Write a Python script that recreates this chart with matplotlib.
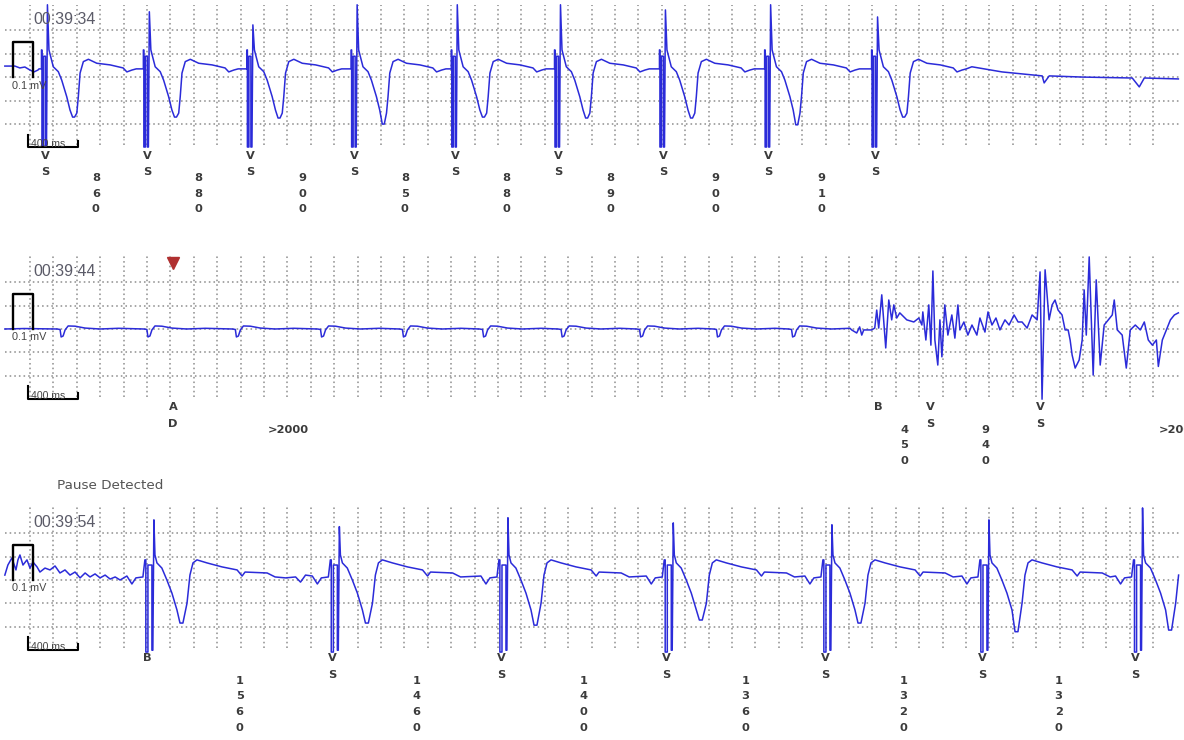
#!/usr/bin/env python3
"""
Pacemaker EGM strip - three 10 s rhythm strips with marker channel
"""

import numpy as np
import matplotlib
matplotlib.use("Agg")
import matplotlib.pyplot as plt

plt.rcParams['font.family'] = ['Liberation Sans', 'DejaVu Sans']

# ---------------------------------------------------------------- data
# times in ms from strip start, amplitudes in grid divisions

# paced beat shape for strip 1 (relative to marker)
beat1_dx = [-51, -30, -30, -26, -26, -13, -13, 4, 4, 13, 21, 34, 71, 114, 143,
            186, 214, 236, 253, 272, 285, 300, 328, 371, 443, 557, 668, 700, 743, 780]
beat1_amp = [0.36, 0.36, 1.17, 1.17, -2.98, -2.98, 0.90, 0.90, -2.98, -2.98, 3.0,
             1.17, 0.45, 0.24, -0.12, -0.83, -1.40, -1.70, -1.70, -1.53, -0.83,
             0.18, 0.67, 0.77, 0.60, 0.53, 0.40, 0.23, 0.31, 0.36]
beat1_top_idx = 10
beat1_tmin_idx = [17, 18]

# paced beat shape for strip 3 (relative to marker)
beat3_dx = [-171, -128, -94, -34, -17, -9, -9, 9, 9, 43, 43, 51, 60, 69, 86, 128,
            171, 214, 257, 283, 308, 343, 368, 394, 428, 514, 642, 771, 814, 839,
            1028, 1096]
beat3_amp = [0.17, -0.17, 0.09, 0.13, 0.86, 0.86, -3.08, -3.08, 0.64, 0.64, -3.0,
             -3.0, 2.5, 1.07, 0.73, 0.51, 0.0, -0.56, -1.28, -1.9, -1.9, -0.99,
             0.21, 0.73, 0.86, 0.73, 0.56, 0.43, 0.17, 0.34, 0.30, 0.13]
beat3_top_idx = 12
beat3_tmin_idx = [19, 20]

# small atrial deflection for strip 2
pwave_dx = [-26, 0, 9, 26, 43, 69, 128, 214, 340, 500]
pwave_amp = [0.0, -0.02, -0.34, -0.30, -0.04, 0.13, 0.12, 0.04, 0.0, 0.03]

# strip 1 : 00:39:34
s1_time = '00:39:34'
s1_beats = [328, 1199, 2084, 2975, 3831, 4713, 5610, 6509, 7423]
s1_marks = ['VS'] * 9
s1_tops = [3.10, 2.80, 2.24, 3.10, 3.10, 3.10, 2.88, 3.10, 2.58]
s1_tmins = [-1.70, -1.70, -1.74, -2.00, -1.70, -1.74, -1.74, -2.03, -1.70]
s1_int_pos = [763, 1641, 2530, 3403, 4272, 5161, 6060, 6966]
s1_int_txt = ['860', '880', '900', '850', '880', '890', '900', '910']
s1_lead_t = [-15, 71, 113, 156, 200, 234, 268]
s1_lead_y = [0.48, 0.48, 0.40, 0.44, 0.31, 0.23, 0.31]
s1_tail_t = [8250, 8508, 8851, 8868, 8911, 9193, 9621, 9681, 9724, 10015]
s1_tail_y = [0.45, 0.23, 0.06, -0.24, 0.06, 0.01, -0.03, -0.41, -0.03, -0.07]

# strip 2 : 00:39:44
s2_time = '00:39:44'
s2_pwaves = [457, 1199, 1955, 2683, 3383, 4068, 4739, 5410, 6067, 6709]
s2_mark_pos = [1422, 7451, 7894, 8836]
s2_marks = ['AD', 'B', 'VS', 'VS']
s2_int_pos = [2234, 7672, 8365, 9850]
s2_int_txt = ['>2000', '450', '940', '>2000']
s2_alert_pos = 1422
s2_lead_t = [-15, 150]
s2_lead_y = [0.0, 0.02]
s2_noise_t = [7223, 7266, 7291, 7309, 7326, 7394, 7420, 7437, 7454, 7480, 7514,
              7540, 7565, 7583, 7608, 7634, 7694, 7754, 7797, 7823, 7831, 7857,
              7882, 7900, 7917, 7934, 7959, 7977, 7994, 8019, 8045, 8079, 8105,
              8131, 8148, 8182, 8216, 8251, 8293, 8319, 8362, 8388, 8422, 8456,
              8490, 8533, 8568, 8611, 8645, 8679, 8722, 8765, 8808, 8833, 8850,
              8876, 8910, 8936, 8961, 8987, 9021, 9047, 9073, 9090, 9107, 9133,
              9167, 9193, 9210, 9228, 9253, 9287, 9313, 9347, 9381, 9416, 9450,
              9467, 9493, 9535, 9570, 9604, 9647, 9690, 9724, 9758, 9793, 9827,
              9844, 9878, 9913, 9947, 9981, 10015]
s2_noise_y = [-0.04, -0.17, 0.09, -0.26, -0.04, -0.04, 0.04, 0.81, 0.04, 1.46,
              -0.81, 1.24, 0.39, 1.03, 0.47, 0.69, 0.39, 0.30, 0.47, 0.17, 0.73,
              -0.47, 1.03, -0.69, 2.48, -0.47, -1.54, 0.39, -1.19, 1.03, -0.26,
              0.60, -0.39, 1.03, -0.04, 0.30, -0.26, 0.17, -0.26, 0.47, -0.13,
              0.73, 0.17, 0.47, -0.04, 0.39, 0.17, 0.60, 0.30, 0.30, 0.04, 0.60,
              0.39, 2.44, -3.0, 2.53, 0.39, 1.03, 1.24, 0.81, 0.60, -0.04, -0.04,
              -0.47, -1.11, -1.67, -1.33, -0.47, 1.67, -0.26, 3.08, -1.97, 2.10,
              -1.54, 0.17, 0.39, 0.60, 1.24, -0.04, -0.26, -1.67, -0.04, 0.17,
              -0.04, 0.30, -0.47, -0.69, -0.47, -1.60, -0.47, -0.04, 0.39, 0.60,
              0.69]

# strip 3 : 00:39:54
s3_time = '00:39:54'
s3_note = 'Pause Detected'
s3_beats = [1199, 2784, 4225, 5638, 6994, 8336, 9649]
s3_marks = ['B', 'VS', 'VS', 'VS', 'VS', 'VS', 'VS']
s3_tops = [2.57, 2.28, 2.66, 2.44, 2.36, 2.57, 3.08]
s3_tmins = [-1.84, -1.84, -1.93, -1.71, -1.84, -2.21, -2.14]
s3_int_pos = [1991, 3504, 4931, 6316, 7665, 8992]
s3_int_txt = ['1560', '1460', '1400', '1360', '1320', '1320']
s3_lead_t = [-15, 11, 45, 80, 97, 114, 140, 174, 200, 225, 260, 285, 328, 371,
             414, 456, 499, 542, 585, 628, 671, 713, 756, 799, 842, 885, 928, 970]
s3_lead_y = [0.21, 0.64, 0.94, 0.43, 0.86, 1.07, 0.64, 0.86, 0.51, 0.77, 0.56,
             0.34, 0.51, 0.43, 0.60, 0.30, 0.43, 0.21, 0.34, 0.09, 0.30, 0.13,
             0.26, 0.09, 0.21, 0.04, 0.13, 0.0]
s3_mid_t = [2385, 2470, 2512, 2555]
s3_mid_y = [0.09, 0.13, -0.09, 0.21]

# ---------------------------------------------------------------- layout
W, H = 1184, 740
PX_PER_UNIT = 23.4          # one grid box = 200 ms = 1 division
X0 = 6.6                    # px of t = 0
CENTERS = [77.3, 329.0, 580.0]
T_END = 10030

TRACE_COLOR = '#2b2bd9'
GRID_COLOR = '#939393'
TEXT_COLOR = '#3b3b3b'
MARK_FONT = dict(family='DejaVu Sans', fontsize=8.2, fontweight='bold',
                 color=TEXT_COLOR, va='center')

ROW_MARK = -3.35
ROW_MARK_STEP = 0.69
ROW_INT = -4.30
ROW_INT_STEP = 0.67


def place_beats(times, dx, amp, tops=None, tmins=None, top_idx=None, tmin_idx=()):
    """Put one copy of a beat shape at each marker time."""
    pieces = []
    for i, t in enumerate(times):
        a = list(amp)
        if tops is not None:
            a[top_idx] = tops[i]
        if tmins is not None:
            for k in tmin_idx:
                a[k] = tmins[i]
        pieces.append((t + np.array(dx, dtype=float), np.array(a)))
    return pieces


def join(pieces):
    pieces = sorted(pieces, key=lambda p: p[0][0])
    t = np.concatenate([p[0] for p in pieces])
    y = np.concatenate([p[1] for p in pieces])
    keep = t <= T_END
    return t[keep], y[keep]


def make_axes(fig, center):
    top = 0.0 if center < 100 else center - 77.3
    bottom = center + 160
    ax = fig.add_axes([0, 1 - bottom / H, 1, (bottom - top) / H])
    ax.set_xlim(-X0 / PX_PER_UNIT * 200, (W - X0) / PX_PER_UNIT * 200)
    ax.set_ylim(-(bottom - center) / PX_PER_UNIT, (center - top) / PX_PER_UNIT)
    ax.axis('off')
    return ax


def draw_grid(ax):
    dots = (0, (1, 1.9))
    for k in range(1, 50):
        ax.plot([200 * k, 200 * k], [-2.9, 3.1], color=GRID_COLOR, lw=1.15,
                ls=dots, zorder=1)
    for y in range(-2, 3):
        ax.plot([-15, 10040], [y, y], color=GRID_COLOR, lw=1.15, ls=dots, zorder=1)


def draw_calibration(ax, stamp):
    ax.plot([55, 55, 225, 225], [0, 1.5, 1.5, 0], color='black', lw=1.7, zorder=4)
    ax.text(47, -0.36, '0.1 mV', fontsize=7.8, color='#444444', ha='left',
            va='center', zorder=5)
    ax.plot([182, 182, 610, 610], [-2.45, -3.0, -3.0, -2.72], color='black',
            lw=1.5, zorder=4)
    ax.text(205, -2.86, '400 ms', fontsize=7.6, color='#444444', ha='left',
            va='center', zorder=5)
    ax.text(226, 2.45, stamp, fontsize=11.5, color='#5b5b68', ha='left',
            va='center', zorder=5)


def draw_marks(ax, times, labels):
    for t, lab in zip(times, labels):
        for i, ch in enumerate(lab):
            ax.text(t, ROW_MARK - i * ROW_MARK_STEP, ch, ha='center', **MARK_FONT)


def draw_intervals(ax, times, labels):
    for t, lab in zip(times, labels):
        if lab.startswith('>'):
            ax.text(t, ROW_INT, lab, ha='left', **MARK_FONT)
            continue
        for i, ch in enumerate(lab):
            ax.text(t, ROW_INT - i * ROW_INT_STEP, ch, ha='center', **MARK_FONT)


def main():
    fig = plt.figure(figsize=(W / 100, H / 100), dpi=100)
    fig.patch.set_facecolor('white')

    # strip 1
    ax = make_axes(fig, CENTERS[0])
    draw_grid(ax)
    pieces = [(np.array(s1_lead_t, float), np.array(s1_lead_y)),
              (np.array(s1_tail_t, float), np.array(s1_tail_y))]
    pieces += place_beats(s1_beats, beat1_dx, beat1_amp, s1_tops, s1_tmins,
                          beat1_top_idx, beat1_tmin_idx)
    t, y = join(pieces)
    ax.plot(t, y, color=TRACE_COLOR, lw=1.1, zorder=3)
    draw_calibration(ax, s1_time)
    draw_marks(ax, s1_beats, s1_marks)
    draw_intervals(ax, s1_int_pos, s1_int_txt)

    # strip 2
    ax = make_axes(fig, CENTERS[1])
    draw_grid(ax)
    pieces = [(np.array(s2_lead_t, float), np.array(s2_lead_y)),
              (np.array(s2_noise_t, float), np.array(s2_noise_y))]
    pieces += place_beats(s2_pwaves, pwave_dx, pwave_amp)
    t, y = join(pieces)
    ax.plot(t, y, color=TRACE_COLOR, lw=1.1, zorder=3)
    draw_calibration(ax, s2_time)
    ax.plot([s2_alert_pos], [2.83], marker='v', color='#b03030', markersize=9,
            zorder=5)
    draw_marks(ax, s2_mark_pos, s2_marks)
    draw_intervals(ax, s2_int_pos, s2_int_txt)

    # strip 3
    ax = make_axes(fig, CENTERS[2])
    draw_grid(ax)
    pieces = [(np.array(s3_lead_t, float), np.array(s3_lead_y)),
              (np.array(s3_mid_t, float), np.array(s3_mid_y))]
    pieces += place_beats(s3_beats, beat3_dx, beat3_amp, s3_tops, s3_tmins,
                          beat3_top_idx, beat3_tmin_idx)
    t, y = join(pieces)
    ax.plot(t, y, color=TRACE_COLOR, lw=1.1, zorder=3)
    draw_calibration(ax, s3_time)
    ax.text(431, 4.02, s3_note, family='DejaVu Sans', fontsize=9.7,
            color='#555555', ha='left', va='center')
    draw_marks(ax, s3_beats, s3_marks)
    draw_intervals(ax, s3_int_pos, s3_int_txt)

    fig.savefig('out.png', dpi=100, facecolor='white')


if __name__ == '__main__':
    main()
